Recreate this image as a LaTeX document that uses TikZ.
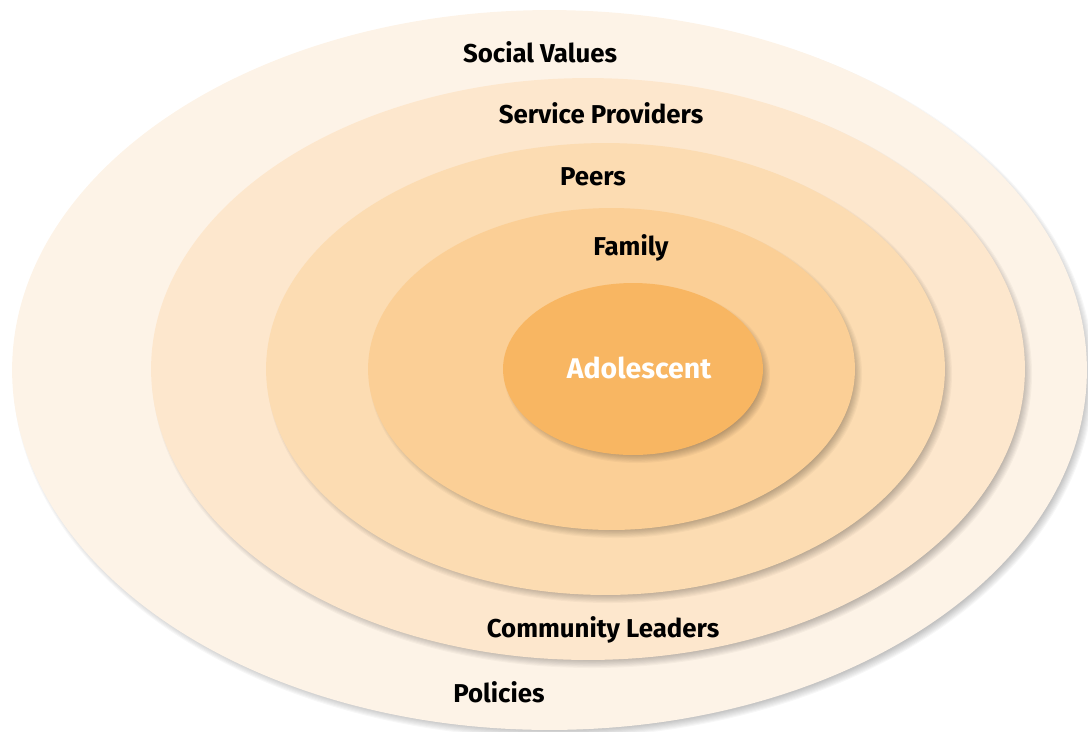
\documentclass[tikz,border=0pt]{standalone}
\usepackage{fontspec}
\setmainfont{Fira Sans}
\usepackage{xcolor}
\usepackage{tikz}
\usetikzlibrary{shapes.geometric, positioning}

\definecolor{ringA}{RGB}{253,243,231}
\definecolor{ringB}{RGB}{253,231,205}
\definecolor{ringC}{RGB}{252,220,178}
\definecolor{ringD}{RGB}{251,207,150}
\definecolor{core}{RGB}{248,182,98}

% soft shadow under a ring: centre x, centre y, x radius, y radius (in px)
\newcommand{\ringshadow}[4]{%
  \foreach \k in {0,...,8}
    \fill[black, opacity=0.032] (#1+4,#2+5) ellipse [x radius={(#3+3-1.1*\k)*0.02cm}, y radius={(#4+3-1.1*\k)*0.02cm}];
}

\begin{document}
\begin{tikzpicture}[
    x=0.02cm, y=-0.02cm,
    ring/.style={ellipse, draw=none, inner sep=0pt},
    label/.style={font=\bfseries\fontsize{14.7}{17}\selectfont, text=black, inner sep=0pt}
]
\useasboundingbox (0,0) rectangle (1088,731);

% Nested rings
\ringshadow{549.5}{370}{537.5}{360}
\node[ring, fill=ringA, minimum width=21.5cm, minimum height=14.4cm] (policy) at (549.5,370) {};
\ringshadow{588}{369}{437}{291}
\node[ring, fill=ringB, minimum width=17.48cm, minimum height=11.64cm] (service) at (588,369) {};
\ringshadow{605.5}{369}{339.5}{226}
\node[ring, fill=ringC, minimum width=13.58cm, minimum height=9.04cm] (peer) at (605.5,369) {};
\ringshadow{611.5}{369}{243.5}{161}
\node[ring, fill=ringD, minimum width=9.74cm, minimum height=6.44cm] (family) at (611.5,369) {};
\ringshadow{633}{369}{130}{86}
\node[ring, fill=core, minimum width=5.2cm, minimum height=3.44cm] (adol) at (633,369) {};

% Labels
\node[label] (lsocial) at (540,52) {Social Values};
\node[label] (lservice) at (601,113) {Service Providers};
\node[label] (lpeers) at (593,177) {Peers};
\node[label] (lfamily) at (631,248) {Family};
\node[label, text=white, font=\bfseries\fontsize{16.2}{18}\selectfont] (ladol) at (639,368) {Adolescent};
\node[label] (lcomm) at (603,630) {Community Leaders};
\node[label] (lpolicy) at (499,692) {Policies};

\end{tikzpicture}
\end{document}
